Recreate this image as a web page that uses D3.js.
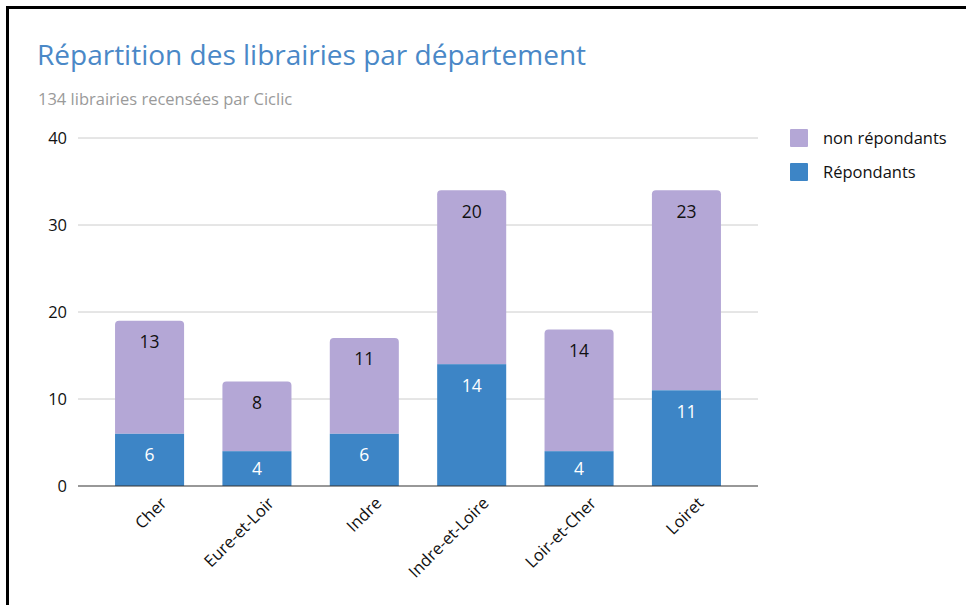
<!DOCTYPE html>
<html>
<head>
<meta charset="utf-8">
<script src="https://d3js.org/d3.v7.min.js"></script>
<style>
    body { margin: 0; background: #fff; }
    svg { display: block; }
    text { font-family: "Open Sans", sans-serif; }
</style>
</head>
<body>
<svg id="chart" width="966" height="605"></svg>
<script>
    // data
    const departements = ["Cher", "Eure-et-Loir", "Indre", "Indre-et-Loire", "Loir-et-Cher", "Loiret"];
    const repondants = [6, 4, 6, 14, 4, 11];
    const nonRepondants = [13, 8, 11, 20, 14, 23];
    const yTicks = [0, 10, 20, 30, 40];
    const seriesNames = ["non répondants", "Répondants"];
    const colors = { rep: "#3d85c6", non: "#b4a7d6" };

    const svg = d3.select("#chart");

    // frame (top + left only, as in the picture)
    svg.append("line").attr("x1", 7).attr("x2", 966).attr("y1", 7.5).attr("y2", 7.5)
        .attr("stroke", "#000").attr("stroke-width", 3);
    svg.append("line").attr("x1", 7.5).attr("x2", 7.5).attr("y1", 6).attr("y2", 605)
        .attr("stroke", "#000").attr("stroke-width", 3);

    svg.append("text").attr("x", 37).attr("y", 65)
        .attr("font-size", 28).attr("fill", "#4a88c7")
        .text("Répartition des librairies par département");
    svg.append("text").attr("x", 38).attr("y", 105)
        .attr("font-size", 16.5).attr("fill", "#9a9a9a")
        .text("134 librairies recensées par Ciclic");

    const x = d3.scaleBand()
        .domain(departements)
        .range([78, 758])
        .paddingInner(0.357)
        .paddingOuter(0.345);

    const y = d3.scaleLinear().domain([0, 40]).range([486, 138]);

    // gridlines
    svg.append("g").selectAll("line")
        .data(yTicks.filter(d => d > 0))
        .join("line")
        .attr("x1", 78).attr("x2", 758)
        .attr("y1", d => y(d)).attr("y2", d => y(d))
        .attr("stroke", "#cccccc").attr("stroke-width", 1);

    // y axis labels
    const yAxis = svg.append("g")
        .attr("transform", "translate(78,0)")
        .call(d3.axisLeft(y).tickValues(yTicks).tickSize(0).tickPadding(11));
    yAxis.select(".domain").remove();
    yAxis.selectAll("text").attr("font-size", 16.5).attr("fill", "#111")
        .attr("font-family", "'Open Sans', sans-serif");

    const rows = departements.map((d, i) => ({ dep: d, rep: repondants[i], non: nonRepondants[i] }));

    // purple segment with rounded top
    const r = 4;
    svg.append("g").selectAll("path")
        .data(rows)
        .join("path")
        .attr("fill", colors.non)
        .attr("d", d => {
            const x0 = x(d.dep), x1 = x0 + x.bandwidth();
            const top = y(d.rep + d.non), bot = y(d.rep);
            return `M${x0},${bot}V${top + r}Q${x0},${top} ${x0 + r},${top}H${x1 - r}Q${x1},${top} ${x1},${top + r}V${bot}Z`;
        });

    svg.append("g").selectAll("rect")
        .data(rows)
        .join("rect")
        .attr("x", d => x(d.dep))
        .attr("width", x.bandwidth())
        .attr("y", d => y(d.rep))
        .attr("height", d => y(0) - y(d.rep))
        .attr("fill", colors.rep);

    // value labels
    function labelY(top, bot) {
        return Math.min(top + 21, (top + bot) / 2);
    }
    const lbl = svg.append("g").attr("font-size", 17.5).attr("text-anchor", "middle");
    lbl.selectAll("text.non")
        .data(rows)
        .join("text")
        .attr("class", "non")
        .attr("font-family", "Roboto, sans-serif")
        .attr("x", d => x(d.dep) + x.bandwidth() / 2)
        .attr("y", d => labelY(y(d.rep + d.non), y(d.rep)))
        .attr("dy", "0.36em")
        .attr("fill", "#111")
        .text(d => d.non);
    lbl.selectAll("text.rep")
        .data(rows)
        .join("text")
        .attr("class", "rep")
        .attr("font-family", "Roboto, sans-serif")
        .attr("x", d => x(d.dep) + x.bandwidth() / 2)
        .attr("y", d => labelY(y(d.rep), y(0)))
        .attr("dy", "0.36em")
        .attr("fill", "#ffffff")
        .text(d => d.rep);

    // x axis baseline + rotated labels
    svg.append("line").attr("x1", 78).attr("x2", 758).attr("y1", y(0)).attr("y2", y(0))
        .attr("stroke", "#333").attr("stroke-width", 1.2);
    svg.append("g").selectAll("text")
        .data(departements)
        .join("text")
        .attr("transform", d => `translate(${x(d) + x.bandwidth() / 2 + 10},${y(0) + 10}) rotate(-45)`)
        .attr("text-anchor", "end")
        .attr("dy", "0.7em")
        .attr("font-size", 16.5)
        .attr("fill", "#111")
        .text(d => d);

    // legend
    const legend = svg.append("g").attr("transform", "translate(790,129)");
    const legendColors = [colors.non, colors.rep];
    seriesNames.forEach((name, i) => {
        const g = legend.append("g").attr("transform", `translate(0,${i * 34})`);
        g.append("rect").attr("width", 18).attr("height", 18).attr("rx", 1).attr("fill", legendColors[i]);
        g.append("text").attr("x", 33).attr("y", 9).attr("dy", "0.35em")
            .attr("font-size", 16.5).attr("fill", "#111").text(name);
    });
</script>
</body>
</html>
